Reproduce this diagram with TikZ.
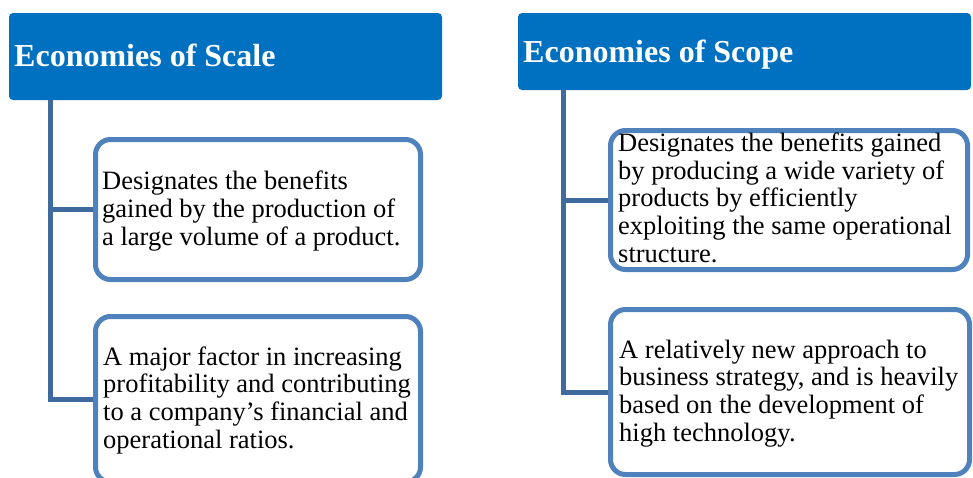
\documentclass[tikz,border=0pt]{standalone}
\usepackage{fontspec}
\setmainfont{Liberation Serif}
\definecolor{headblue}{HTML}{0070C0}
\definecolor{boxblue}{HTML}{4F81BD}
\definecolor{connblue}{HTML}{3F6A9E}
\tikzset{
  header/.style={fill=headblue, draw=none, rounded corners=4pt},
  descbox/.style={draw=boxblue, line width=5pt, fill=white, rounded corners=15pt},
  conn/.style={draw=connblue, line width=5pt},
  title/.style={anchor=base west, text=white, inner sep=0pt, font=\fontsize{32}{38}\selectfont\bfseries},
  body/.style={anchor=base west, inner sep=0pt, align=left, font=\fontsize{26.5}{27.6}\selectfont}
}
\begin{document}
\begin{tikzpicture}[x=1pt,y=-1pt]
\path[use as bounding box, clip] (0,0) rectangle (973,477);
\fill[white] (0,0) rectangle (973,477);
% headers
\path[header] (9,13) rectangle (442,100);
\coordinate (h1) at (50,100);
\node[title] (t1) at (14,66) {Economies of Scale};
\path[header] (518,13) rectangle (971,90);
\coordinate (h2) at (563,90);
\node[title] (t2) at (523,62) {Economies of Scope};
% connectors
\draw[conn] (h1) |- (95,399);
\draw[conn] (50,209) -- (95,209);
\draw[conn] (h2) |- (610,392);
\draw[conn] (563,200) -- (610,200);
% boxes
\draw[descbox] (95.5,139.5) rectangle (420.5,279.5);
\draw[descbox] (95.5,316.5) rectangle (420.5,482);
\draw[descbox] (610.5,130.5) rectangle (967.5,269.5);
\draw[descbox] (610.5,309.5) rectangle (969.5,474.5);
% texts (anchored at the baseline of the last line)
\node[body] (d1) at (102,245) {Designates the benefits\\gained by the production of\\a large volume of a product.};
\node[body] (d2) at (103,448) {A major factor in increasing\\profitability and contributing\\to a company’s financial and\\operational ratios.};
\node[body] (d3) at (618,262) {Designates the benefits gained\\by producing a wide variety of\\products by efficiently\\exploiting the same operational\\structure.};
\node[body] (d4) at (619,441) {A relatively new approach to\\business strategy, and is heavily\\based on the development of\\high technology.};
\end{tikzpicture}
\end{document}
